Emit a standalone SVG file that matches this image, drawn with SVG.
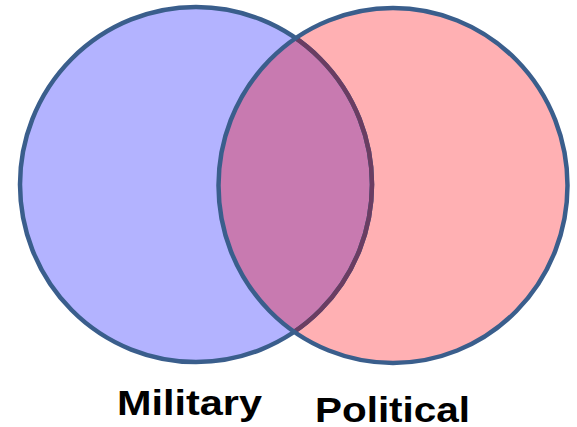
<svg xmlns="http://www.w3.org/2000/svg" width="577" height="427" viewBox="0 0 577 427">
  <defs>
    <clipPath id="clipLeft"><ellipse cx="196" cy="184.5" rx="176" ry="177.5"/></clipPath>
    <clipPath id="clipRight"><ellipse cx="393" cy="185.5" rx="174.5" ry="177.5"/></clipPath>
    <style>
      .lbl { font-family: "Liberation Sans", Arial, sans-serif; font-weight: bold; font-size: 35px; fill: #000; }
      .edge { fill: none; stroke-width: 4.5; }
    </style>
  </defs>
  <g id="fills">
    <ellipse cx="196" cy="184.5" rx="176" ry="177.5" fill="#B3B3FF"/>
    <ellipse cx="393" cy="185.5" rx="174.5" ry="177.5" fill="#FFB0B3"/>
    <ellipse cx="393" cy="185.5" rx="174.5" ry="177.5" fill="#C87AB0" clip-path="url(#clipLeft)"/>
  </g>
  <g id="military">
    <ellipse class="edge" cx="196" cy="184.5" rx="176" ry="177.5" stroke="#3A5E8C"/>
    <ellipse class="edge" cx="196" cy="184.5" rx="176" ry="177.5" stroke="#6A3D62" clip-path="url(#clipRight)"/>
    <text class="lbl" x="117" y="415" textLength="145" lengthAdjust="spacingAndGlyphs">Military</text>
  </g>
  <g id="political">
    <ellipse class="edge" cx="393" cy="185.5" rx="174.5" ry="177.5" stroke="#3A5E8C"/>
    <text class="lbl" x="315" y="421.5" textLength="155" lengthAdjust="spacingAndGlyphs">Political</text>
  </g>
  <g id="connectors"/>
</svg>
